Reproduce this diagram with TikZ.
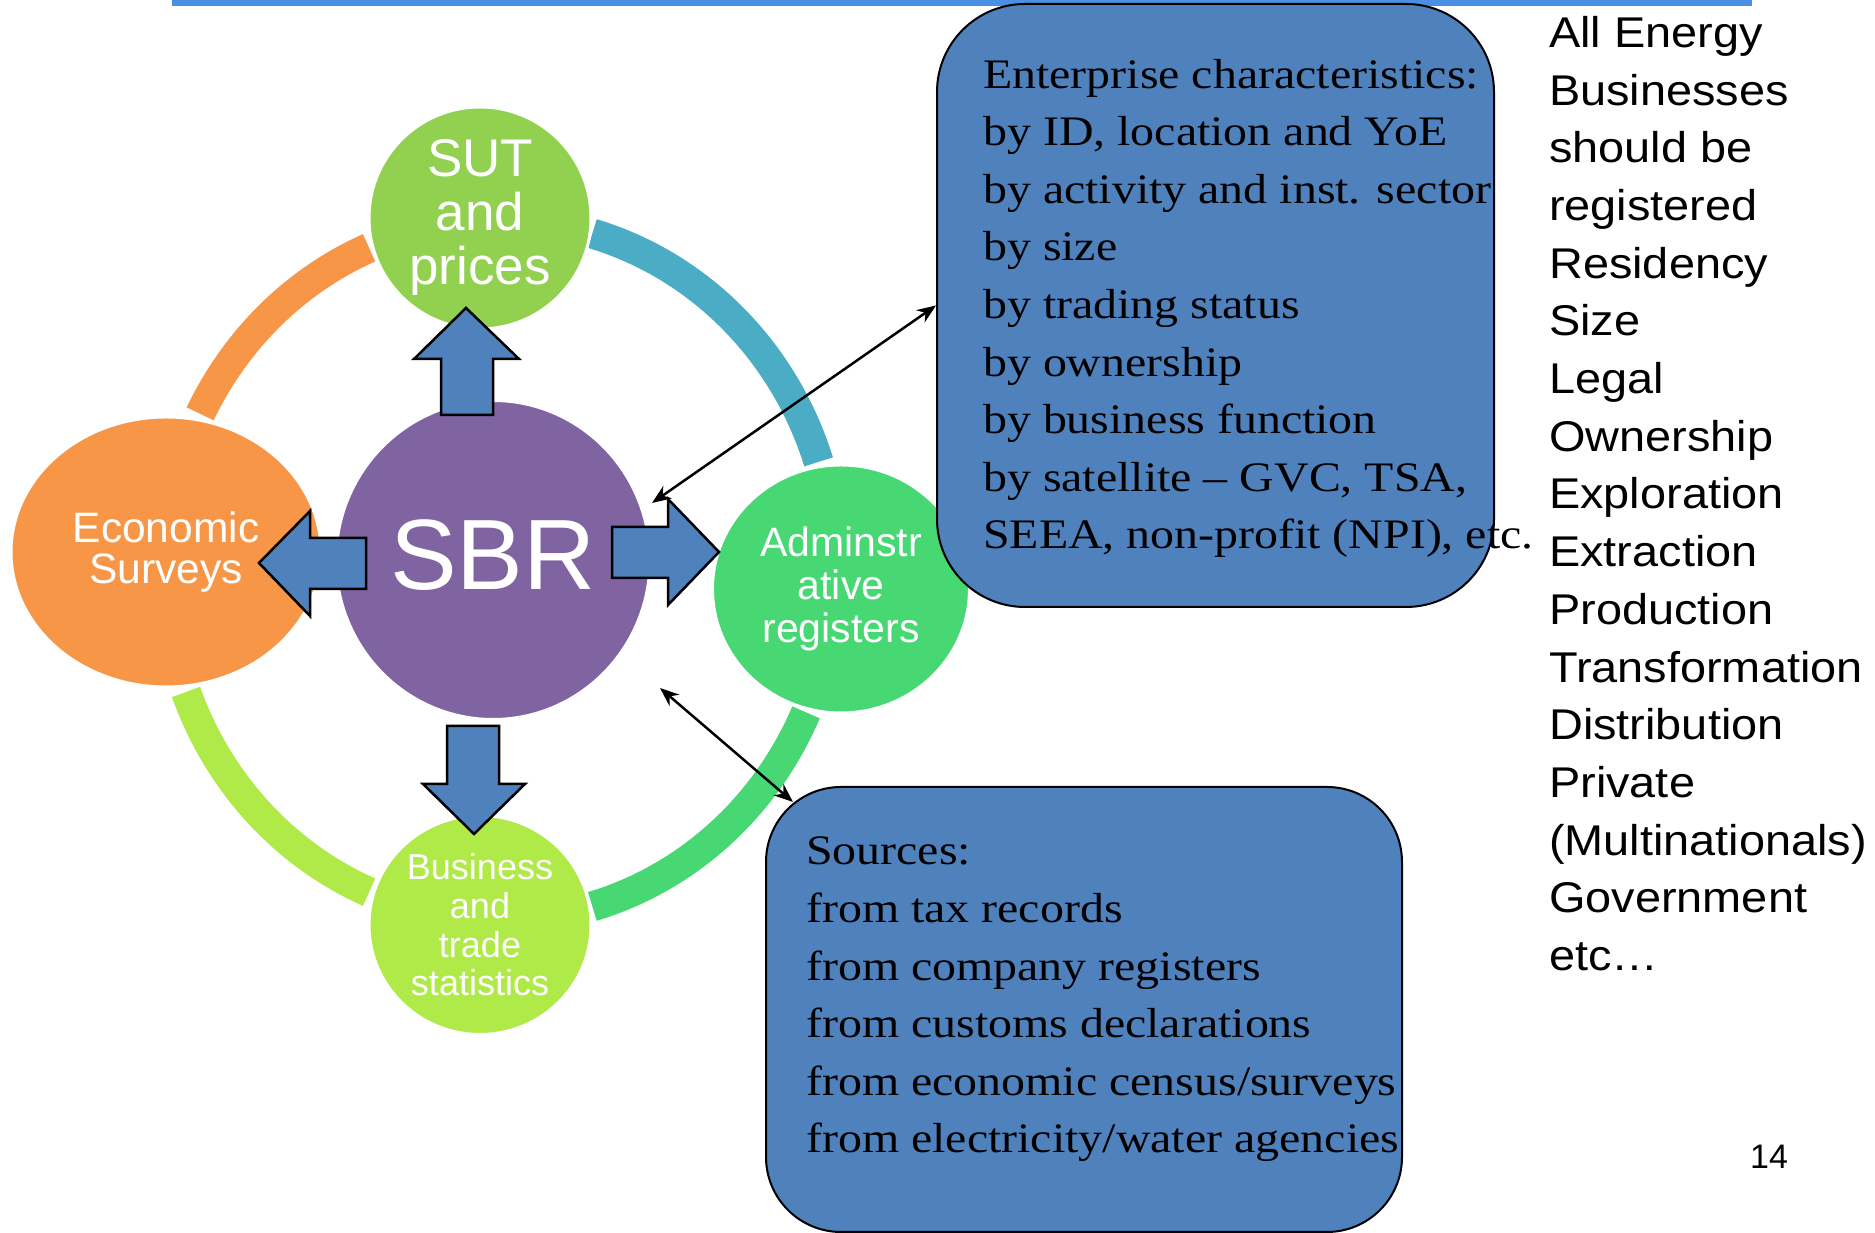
\documentclass[tikz,border=0pt]{standalone}
\usepackage{fontspec}
\usepackage{xcolor}
\usepackage{tikz}
\usetikzlibrary{shapes,arrows.meta,positioning}
\setmainfont{Liberation Serif}
\newfontfamily\sansfont{Liberation Sans}
\newfontfamily\listfont[FakeStretch=1.09]{Liberation Sans}
\newfontfamily\boxfont[FakeStretch=1.14]{Liberation Serif}

\definecolor{sbrpurple}{RGB}{128,100,162}
\definecolor{sutgreen}{RGB}{146,208,80}
\definecolor{admgreen}{RGB}{72,216,115}
\definecolor{bizgreen}{RGB}{176,234,72}
\definecolor{econorange}{RGB}{247,150,70}
\definecolor{ringblue}{RGB}{75,172,198}
\definecolor{boxblue}{RGB}{79,129,189}
\definecolor{topblue}{RGB}{74,144,226}

\tikzset{cycle-node/.style={ellipse,draw=white,line width=3pt,inner sep=0pt,text=white,align=center}}
\tikzset{ring-arc/.style={line width=30pt,line cap=butt}}
\tikzset{block-arrow/.style={draw=black,fill=boxblue,line width=2.5pt,line join=miter}}
\tikzset{info-box/.style={draw=black,fill=boxblue,line width=2pt,rounded corners=88pt}}
\tikzset{>={Stealth[length=19pt,width=15pt]}}

\begin{document}
\begin{tikzpicture}[x=1pt,y=1pt]
            \useasboundingbox (0,0) rectangle (1875,1233);
            \fill [topblue] (172,1227) rectangle (1752,1233);

            % ring behind the cycle
            \coordinate (ring) at (500,663);
            \draw [ring-arc, econorange] (ring) ++(113:335pt and 350pt)
                arc [start angle=113, end angle=153.5, x radius=335pt, y radius=350pt];
            \draw [ring-arc, ringblue] (ring) ++(18:335pt and 350pt)
                arc [start angle=18, end angle=74, x radius=335pt, y radius=350pt];
            \draw [ring-arc, admgreen] (ring) ++(-74:335pt and 350pt)
                arc [start angle=-74, end angle=-24, x radius=335pt, y radius=350pt];
            \draw [ring-arc, bizgreen] (ring) ++(200.4:335pt and 350pt)
                arc [start angle=200.4, end angle=247, x radius=335pt, y radius=350pt];

            \node [cycle-node, fill=sutgreen, minimum width=222pt, minimum height=222pt,
                font=\sansfont\fontsize{53}{54}\selectfont] (sut) at (480,1015) {SUT\\and\\prices};
            \node [cycle-node, fill=econorange, minimum width=310pt, minimum height=270pt,
                font=\sansfont\fontsize{42.5}{41}\selectfont] (econ) at (166,681) {Economic\\Surveys};
            \node [cycle-node, fill=sbrpurple, minimum width=314pt, minimum height=319pt,
                font=\sansfont\fontsize{100}{100}\selectfont] (sbr) at (493,673) {\raisebox{10pt}{SBR}};
            \node [cycle-node, fill=admgreen, minimum width=257pt, minimum height=248pt,
                font=\sansfont\fontsize{41}{43}\selectfont] (admin) at (841,644) {Adminstr\\ative\\registers};
            \node [cycle-node, fill=bizgreen, minimum width=222pt, minimum height=219pt,
                font=\sansfont\fontsize{36}{38.7}\selectfont] (biz) at (480,308) {Business\\and\\trade\\statistics};

            % block arrows out of SBR
            \draw [block-arrow] (441,818) -- (441,874) -- (414,874) -- (466,925) -- (519,874) -- (493,874) -- (493,818) -- cycle;
            \draw [block-arrow] (366,695) -- (310,695) -- (310,722) -- (259,670) -- (310,617) -- (310,644) -- (366,644) -- cycle;
            \draw [block-arrow] (612,706) -- (668,706) -- (668,734) -- (719,681) -- (668,628) -- (668,655) -- (612,655) -- cycle;
            \draw [block-arrow] (447,507) -- (499,507) -- (499,449) -- (525,449) -- (474,399) -- (423,449) -- (447,449) -- cycle;

            \node [info-box, minimum width=557pt, minimum height=603pt] (ent) at (1215.5,927.5) {};
            \node [info-box, rounded corners=75pt, minimum width=636pt, minimum height=445pt] (src) at (1084,223.5) {};

            \coordinate (sbr-ne) at (652,730);
            \coordinate (sbr-se) at (660,545);
            \coordinate (src-nw) at (793,431);
            \draw [<->, line width=2.5pt] (sbr-ne) -- (ent.west);
            \draw [<->, line width=2.5pt] (sbr-se) -- (src-nw);

            \node [anchor=west, align=left, inner sep=0pt, font=\boxfont\fontsize{42}{57.6}\selectfont]
                (ent-text) at ([xshift=47pt, yshift=-3pt]ent.west)
                {Enterprise characteristics:\\by ID, location and YoE\\by activity and inst. sector\\by size\\by trading status\\by ownership\\by business function\\by satellite – GVC, TSA,\\SEEA, non-profit (NPI), etc.};
            \node [anchor=west, align=left, inner sep=0pt, font=\boxfont\fontsize{42}{57.6}\selectfont]
                (src-text) at ([xshift=41pt, yshift=10pt]src.west)
                {Sources:\\from tax records\\from company registers\\from customs declarations\\from economic census/surveys\\from electricity/water agencies};

            \node [anchor=north west, align=left, inner sep=0pt, font=\listfont\fontsize{43}{57.7}\selectfont]
                (energy-list) at (1549,1217)
                {All Energy\\Businesses\\should be\\registered\\Residency\\Size\\Legal\\Ownership\\Exploration\\Extraction\\Production\\Transformation\\Distribution\\Private\\(Multinationals)\\Government\\etc…};
            \node [anchor=base, inner sep=0pt, font=\sansfont\fontsize{34}{34}\selectfont] (page-num) at (1769,64) {14};
\end{tikzpicture}
\end{document}
